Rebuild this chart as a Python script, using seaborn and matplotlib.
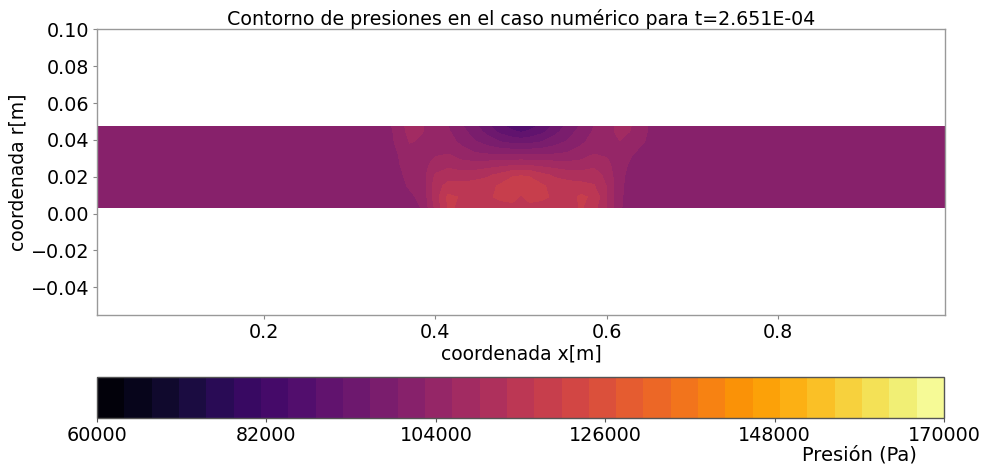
import numpy as np
import matplotlib
matplotlib.use("Agg")
import matplotlib.pyplot as plt
import seaborn as sns

# Axial positions of the sampled nodes [m]
x_nodes = [0.005, 0.33, 0.35, 0.37, 0.385, 0.40, 0.415, 0.43, 0.445, 0.46, 0.475, 0.49, 0.50,
           0.51, 0.525, 0.54, 0.555, 0.57, 0.585, 0.60, 0.615, 0.63, 0.645, 0.66, 0.68, 0.995]
# Radial positions of the sampled nodes [m]
r_nodes = [0.0035, 0.009, 0.015, 0.021, 0.027, 0.033, 0.039, 0.0445, 0.0475]

# Pressure [Pa] along x for each radial position
p_r0 = [100800, 100800, 100800, 101500, 102800, 110500, 117200, 116300, 114800, 115000, 115300, 115500, 115500,
        115500, 115300, 115000, 114800, 117200, 114500, 109500, 103000, 100800, 100800, 100800, 100800, 100800]
p_r1 = [100800, 100800, 100800, 102000, 103300, 111500, 117500, 116500, 115000, 116000, 117500, 118300, 116200,
        118300, 117500, 116000, 115000, 117500, 116000, 109800, 103200, 100800, 100800, 100800, 100800, 100800]
p_r2 = [100800, 100800, 101000, 102900, 104000, 111500, 114500, 114500, 114800, 115500, 117200, 118800, 119000,
        118800, 117200, 115500, 114800, 114500, 113500, 109500, 103300, 101000, 100800, 100800, 100800, 100800]
p_r3 = [100800, 100800, 101100, 103500, 104500, 110000, 111500, 111000, 111500, 112500, 114000, 116300, 116600,
        116300, 114000, 112500, 111500, 111000, 111500, 108500, 103500, 101300, 100900, 100800, 100800, 100800]
p_r4 = [100800, 100800, 101300, 104300, 104800, 107300, 108500, 107300, 107000, 107500, 108000, 108500, 108800,
        108500, 108000, 107500, 107000, 107300, 108500, 107000, 104000, 101800, 101000, 100800, 100800, 100800]
p_r5 = [100800, 100800, 101500, 105000, 105000, 105500, 105800, 104000, 102800, 102000, 101500, 101300, 101200,
        101300, 101500, 102000, 102800, 104000, 105800, 105500, 104800, 102800, 101500, 100800, 100800, 100800]
p_r6 = [100800, 100800, 102200, 106300, 105700, 104600, 104000, 101800, 99500, 97500, 95500, 94300, 94000,
        94300, 95500, 97500, 99500, 101800, 104000, 104800, 106000, 104800, 102500, 100900, 100800, 100800]
p_r7 = [100800, 100800, 102500, 107300, 106200, 104300, 103000, 100300, 97500, 94500, 91000, 89000, 88000,
        89000, 91000, 94500, 97500, 100300, 103000, 104500, 107300, 105800, 102900, 101000, 100800, 100800]
p_r8 = [100800, 100800, 102700, 107500, 106300, 104300, 102600, 99500, 96500, 93000, 89500, 86800, 85500,
        86800, 89500, 93000, 96500, 99500, 102600, 104300, 107500, 106000, 103000, 101000, 100800, 100800]

cbar_ticks = [60000, 82000, 104000, 126000, 148000, 170000]

sns.set_theme(style="ticks")
plt.rcParams["font.family"] = ["DejaVu Sans"]
plt.rcParams["text.color"] = "black"
plt.rcParams["axes.labelcolor"] = "black"

X, R = np.meshgrid(np.array(x_nodes), np.array(r_nodes))
P = np.array([p_r0, p_r1, p_r2, p_r3, p_r4, p_r5, p_r6, p_r7, p_r8], dtype=float)

levels = np.linspace(60000, 170000, 32)
cmap = sns.color_palette("inferno", as_cmap=True)

fig = plt.figure(figsize=(9.84, 4.67), dpi=100)
ax = fig.add_axes([0.0986, 0.3255, 0.8618, 0.6118])
cax = fig.add_axes([0.0986, 0.1039, 0.8608, 0.0888])

cf = ax.contourf(X, R, P, levels=levels, cmap=cmap)
ax.set_ylim(-0.055, 0.10)
ax.set_xticks([0.2, 0.4, 0.6, 0.8])
ax.set_yticks([-0.04, -0.02, 0.0, 0.02, 0.04, 0.06, 0.08, 0.10])
ax.tick_params(labelsize=13.8, length=3, width=0.8, pad=2.5, colors="#888888", labelcolor="black")
for s in ax.spines.values():
    s.set_color("#999999")
    s.set_linewidth(1.0)
ax.set_xlabel("coordenada x[m]", fontsize=13.5, labelpad=2)
ax.set_ylabel("coordenada r[m]", fontsize=13.5, labelpad=2)
ax.set_title("Contorno de presiones en el caso numérico para t=2.651E-04", fontsize=13.7, pad=3)

cbar = fig.colorbar(cf, cax=cax, orientation="horizontal", ticks=cbar_ticks)
cbar.ax.set_xticklabels([str(t) for t in cbar_ticks])
cbar.ax.tick_params(labelsize=13.8, length=3, width=0.8, pad=2.5, colors="#555555", labelcolor="black")
cbar.outline.set_edgecolor("#555555")
cbar.outline.set_linewidth(1.0)
cbar.ax.set_xlabel("Presión (Pa)", fontsize=14, labelpad=0)
cbar.ax.xaxis.get_label().set_position((0.9, 0))

fig.savefig("out.png", dpi=100)
